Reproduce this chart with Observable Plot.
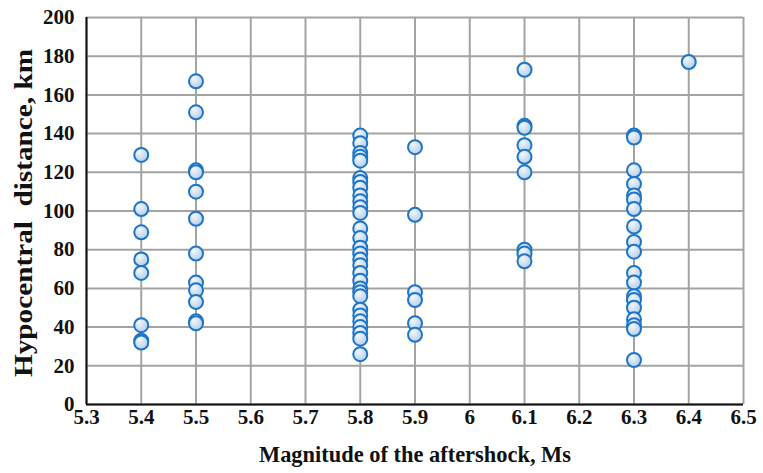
<!DOCTYPE html>
<html>
<head>
<meta charset="utf-8">
<script src="https://cdn.jsdelivr.net/npm/d3@7"></script>
<script src="https://cdn.jsdelivr.net/npm/@observablehq/plot@0.6"></script>
<style>
html,body{margin:0;padding:0;background:#fff;}
#chart{width:763px;height:473px;}
</style>
</head>
<body>
<div id="chart"></div>
<script>
const xTicks = [5.3, 5.4, 5.5, 5.6, 5.7, 5.8, 5.9, 6.0, 6.1, 6.2, 6.3, 6.4, 6.5];
const yTicks = [0, 20, 40, 60, 80, 100, 120, 140, 160, 180, 200];
const magnitudes = [5.4, 5.5, 5.8, 5.9, 6.1, 6.3, 6.4];
const dist54 = [129, 101, 89, 75, 68, 41, 33, 32];
const dist55 = [167, 151, 121, 120, 110, 96, 78, 63, 59, 53, 43, 42];
const dist58 = [139, 135, 130, 128, 126, 117, 115, 112, 108, 105, 102, 99, 91, 86, 81, 78, 75, 72, 68, 64, 60, 58, 56, 49, 46, 43, 40, 37, 34, 26];
const dist59 = [133, 98, 58, 54, 42, 36];
const dist61 = [173, 144, 143, 134, 128, 120, 80, 78, 74];
const dist63 = [139, 138, 121, 114, 108, 106, 101, 92, 84, 79, 68, 63, 56, 54, 50, 44, 41, 39, 23];
const dist64 = [177];
const xLabel = "Magnitude of the aftershock, Ms";
const yLabel = "Hypocentral\u00a0 distance, km";

const series = [dist54, dist55, dist58, dist59, dist61, dist63, dist64];
const points = [];
magnitudes.forEach((m, i) => series[i].forEach(d => points.push({magnitude: m, distance: d})));

const font = "'Liberation Serif', 'Times New Roman', serif";
const fmtX = d => String(+d.toFixed(1));

const plot = Plot.plot({
  width: 763,
  height: 473,
  marginLeft: 86,
  marginRight: 20,
  marginTop: 17,
  marginBottom: 69,
  style: {fontFamily: font, background: "#fff"},
  x: {domain: [5.3, 6.5], axis: null},
  y: {domain: [0, 200], axis: null},
  marks: [
    Plot.ruleX(xTicks, {x: d => d, stroke: "#a3a3a3", strokeWidth: 2}),
    Plot.ruleY(yTicks, {y: d => d, stroke: "#a3a3a3", strokeWidth: 2}),
    Plot.text(xTicks, {x: d => d, text: fmtX, frameAnchor: "bottom", dy: 19, fontSize: 21, fontWeight: "bold", fill: "#111"}),
    Plot.text(yTicks, {y: d => d, text: d => String(d), frameAnchor: "left", textAnchor: "end", dx: -12, fontSize: 21, fontWeight: "bold", fill: "#111"}),
    Plot.ruleX([5.3], {stroke: "#111", strokeWidth: 2}),
    Plot.ruleY([0], {stroke: "#111", strokeWidth: 2}),
    Plot.dot(points, {x: "magnitude", y: "distance", r: 7, fill: "url(#dotGrad)", stroke: "#1d75c8", strokeWidth: 2}),
    Plot.text([xLabel], {frameAnchor: "bottom", dy: 57, fontSize: 23, fontWeight: "bold", fill: "#111"}),
    Plot.text([yLabel], {frameAnchor: "left", dx: -63, dy: 2, rotate: -90, textAnchor: "middle", fontSize: 25, fontWeight: "bold", fill: "#111"})
  ]
});

const ns = "http://www.w3.org/2000/svg";
const defs = document.createElementNS(ns, "defs");
defs.innerHTML = '<radialGradient id="dotGrad" cx="35%" cy="30%" r="75%"><stop offset="0%" stop-color="#f2f7fd"/><stop offset="100%" stop-color="#b4cde9"/></radialGradient>';
plot.insertBefore(defs, plot.firstChild);
d3.select(plot).selectAll("text").each(function() {
  const t = this.textContent;
  if (t === yLabel) {
    this.setAttribute("textLength", "328");
    this.setAttribute("lengthAdjust", "spacingAndGlyphs");
  } else if (t === xLabel) {
    this.setAttribute("textLength", "312");
    this.setAttribute("lengthAdjust", "spacingAndGlyphs");
  }
});
document.getElementById("chart").appendChild(plot);
</script>
</body>
</html>
